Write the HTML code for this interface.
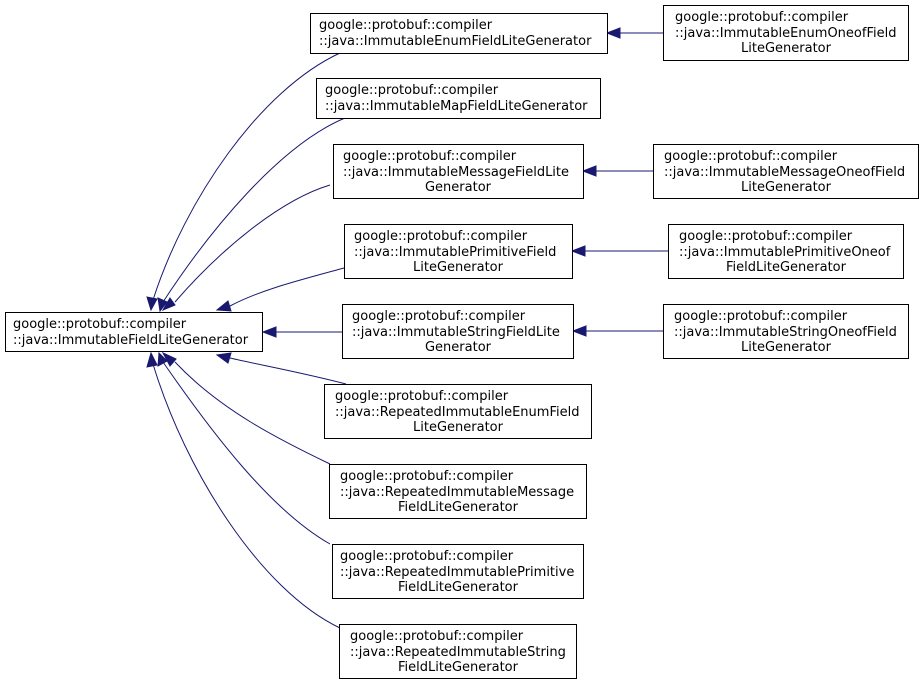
<!DOCTYPE html>
<html><head><meta charset="utf-8"><style>
html,body{margin:0;padding:0;background:#fff;}
svg{display:block;}
text{font-family:"DejaVu Sans","Liberation Sans",sans-serif;font-size:13px;fill:#000;}
rect{fill:#fff;stroke:#000;stroke-width:1;}
.e{fill:none;stroke:#191970;stroke-width:1;}
.a{fill:#191970;stroke:#191970;}
</style></head><body>
<svg width="924" height="685" viewBox="0 0 924 685" xmlns="http://www.w3.org/2000/svg">
<path class="e" d="M340,53 C260,90 185,200 153,300"/>
<polygon class="a" points="147,297 151,310 157,299"/>
<path class="e" d="M345,118 C280,145 210,230 163,302"/>
<polygon class="a" points="158,298 160,311 167,302"/>
<path class="e" d="M330,185 C280,200 220,250 175,302"/>
<polygon class="a" points="170,298 163,310 175,305"/>
<path class="e" d="M344,268 C300,280 260,290 230,306"/>
<polygon class="a" points="228,301 217,310 231,311"/>
<line class="e" x1="342" y1="332" x2="276" y2="332"/>
<polygon class="a" points="276,327 263,332 276,337"/>
<path class="e" d="M346,384 C300,372 260,365 230,358"/>
<polygon class="a" points="231,353 217,355 228,363"/>
<path class="e" d="M330,464 C280,440 220,410 175,362"/>
<polygon class="a" points="176,359 163,353 170,366"/>
<path class="e" d="M330,544 C270,510 210,430 163,362"/>
<polygon class="a" points="167,361 159,353 158,366"/>
<path class="e" d="M340,628 C260,590 185,470 153,364"/>
<polygon class="a" points="157,365 151,353 147,367"/>
<line class="e" x1="663" y1="33" x2="620" y2="33"/>
<polygon class="a" points="620,28 607,33 620,38"/>
<line class="e" x1="653" y1="171" x2="596" y2="171"/>
<polygon class="a" points="596,166 583,171 596,176"/>
<line class="e" x1="668" y1="251" x2="585" y2="251"/>
<polygon class="a" points="585,246 572,251 585,256"/>
<line class="e" x1="663" y1="331" x2="586" y2="331"/>
<polygon class="a" points="586,326 573,331 586,336"/>

<rect x="5.5" y="312.5" width="257" height="39"/>
<text x="13" y="328">google::protobuf::compiler</text>
<text x="13" y="344">::java::ImmutableFieldLiteGenerator</text>

<rect x="310.5" y="13.5" width="297" height="40"/>
<text x="319" y="29">google::protobuf::compiler</text>
<text x="319" y="45">::java::ImmutableEnumFieldLiteGenerator</text>

<rect x="316.5" y="78.5" width="284" height="40"/>
<text x="325" y="94">google::protobuf::compiler</text>
<text x="325" y="110">::java::ImmutableMapFieldLiteGenerator</text>

<rect x="333.5" y="144.5" width="250" height="54"/>
<text x="343" y="160">google::protobuf::compiler</text>
<text x="343" y="176">::java::ImmutableMessageFieldLite</text>
<text x="458" y="191" text-anchor="middle">Generator</text>

<rect x="344.5" y="224.5" width="228" height="54"/>
<text x="354" y="240">google::protobuf::compiler</text>
<text x="354" y="256">::java::ImmutablePrimitiveField</text>
<text x="458" y="271" text-anchor="middle">LiteGenerator</text>

<rect x="342.5" y="304.5" width="231" height="54"/>
<text x="352" y="320">google::protobuf::compiler</text>
<text x="352" y="336">::java::ImmutableStringFieldLite</text>
<text x="458" y="351" text-anchor="middle">Generator</text>

<rect x="324.5" y="384.5" width="267" height="54"/>
<text x="335" y="400">google::protobuf::compiler</text>
<text x="335" y="416">::java::RepeatedImmutableEnumField</text>
<text x="458" y="431" text-anchor="middle">LiteGenerator</text>

<rect x="329.5" y="464.5" width="257" height="54"/>
<text x="340" y="480">google::protobuf::compiler</text>
<text x="340" y="496">::java::RepeatedImmutableMessage</text>
<text x="458" y="511" text-anchor="middle">FieldLiteGenerator</text>

<rect x="332.5" y="544.5" width="251" height="54"/>
<text x="340" y="560">google::protobuf::compiler</text>
<text x="340" y="576">::java::RepeatedImmutablePrimitive</text>
<text x="458" y="591" text-anchor="middle">FieldLiteGenerator</text>

<rect x="339.5" y="624.5" width="237" height="54"/>
<text x="350" y="640">google::protobuf::compiler</text>
<text x="350" y="656">::java::RepeatedImmutableString</text>
<text x="458" y="671" text-anchor="middle">FieldLiteGenerator</text>

<rect x="663.5" y="5.5" width="245" height="55"/>
<text x="675" y="21">google::protobuf::compiler</text>
<text x="675" y="37">::java::ImmutableEnumOneofField</text>
<text x="786" y="52" text-anchor="middle">LiteGenerator</text>

<rect x="653.5" y="144.5" width="265" height="54"/>
<text x="664" y="160">google::protobuf::compiler</text>
<text x="664" y="176">::java::ImmutableMessageOneofField</text>
<text x="786" y="191" text-anchor="middle">LiteGenerator</text>

<rect x="668.5" y="224.5" width="235" height="54"/>
<text x="679" y="240">google::protobuf::compiler</text>
<text x="679" y="256">::java::ImmutablePrimitiveOneof</text>
<text x="786" y="271" text-anchor="middle">FieldLiteGenerator</text>

<rect x="663.5" y="304.5" width="245" height="54"/>
<text x="674" y="320">google::protobuf::compiler</text>
<text x="674" y="336">::java::ImmutableStringOneofField</text>
<text x="786" y="351" text-anchor="middle">LiteGenerator</text>
</svg>
</body></html>
